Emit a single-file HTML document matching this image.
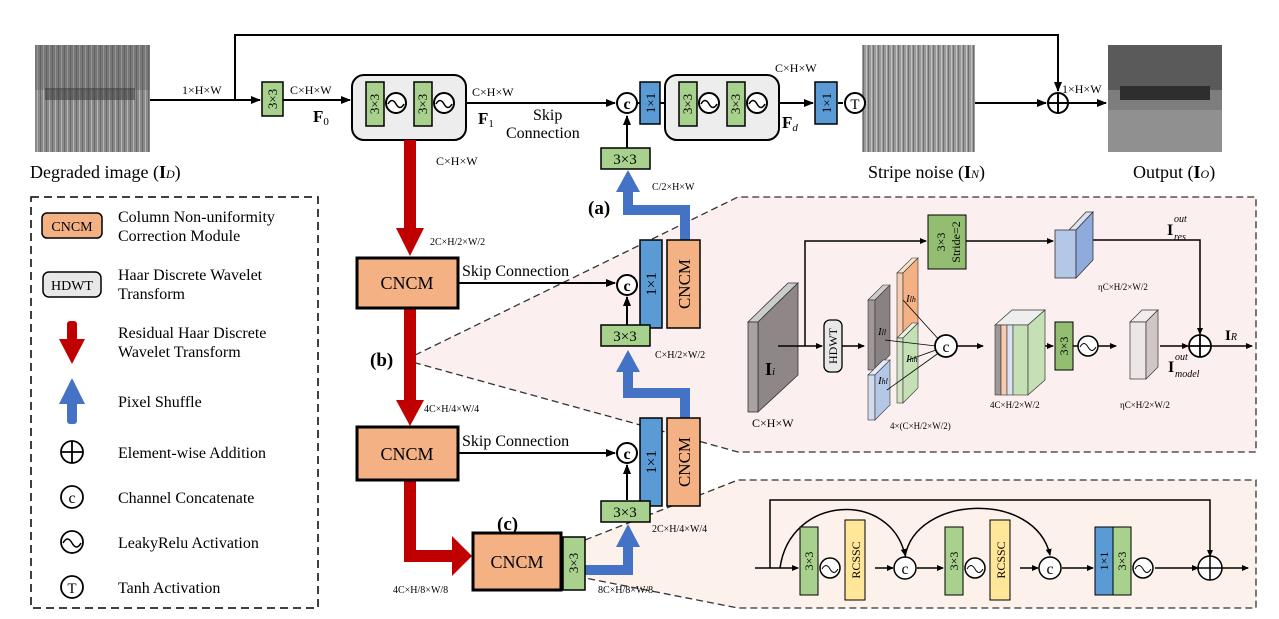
<!DOCTYPE html>
<html><head><meta charset="utf-8"><style>
html,body{margin:0;padding:0;background:#fff}
svg{display:block;font-family:"Liberation Serif",serif}
</style></head><body>
<svg width="1279" height="619" viewBox="0 0 1279 619" xmlns="http://www.w3.org/2000/svg">
<defs>
<marker id="a" markerWidth="10" markerHeight="8" refX="9" refY="4" orient="auto" markerUnits="userSpaceOnUse"><path d="M0,0L10,4L0,8z" fill="#000"/></marker>
<marker id="s" markerWidth="7" markerHeight="6" refX="6" refY="3" orient="auto" markerUnits="userSpaceOnUse"><path d="M0,0L7,3L0,6z" fill="#000"/></marker>
<pattern id="deg" width="6" height="107" patternUnits="userSpaceOnUse"><rect width="6" height="107" fill="#8a8a8a"/><rect x="1" width="1" height="107" fill="#b5b5b5"/><rect x="4" width="1" height="107" fill="#6a6a6a"/></pattern>
<pattern id="str" width="5" height="107" patternUnits="userSpaceOnUse"><rect width="5" height="107" fill="#9a9a9a"/><rect x="1" width="1" height="107" fill="#c2c2c2"/><rect x="3" width="1" height="107" fill="#707070"/></pattern>
</defs>

<!-- images -->
<rect x="35" y="45" width="115" height="107" fill="url(#deg)"/>
<rect x="35" y="45" width="115" height="45" fill="#555" opacity=".35"/>
<rect x="45" y="88" width="90" height="12" fill="#333" opacity=".5"/>
<rect x="862" y="45" width="113" height="107" fill="url(#str)"/>
<rect x="1108" y="45" width="114" height="107" fill="#7d7d7d"/>
<rect x="1108" y="45" width="114" height="45" fill="#5a5a5a"/>
<rect x="1120" y="86" width="90" height="14" fill="#2e2e2e"/>
<rect x="1108" y="110" width="114" height="42" fill="#909090"/>
<text x="30" y="178" font-size="18">Degraded image (<tspan font-weight="bold">I</tspan><tspan font-size="12" font-style="italic">D</tspan>)</text>
<text x="868" y="178" font-size="18">Stripe noise (<tspan font-weight="bold">I</tspan><tspan font-size="12" font-style="italic">N</tspan>)</text>
<text x="1133" y="178" font-size="18">Output (<tspan font-weight="bold">I</tspan><tspan font-size="12" font-style="italic">O</tspan>)</text>

<!-- top path -->
<g stroke="#000" stroke-width="2" fill="none">
<path d="M150,100H260" marker-end="url(#a)"/>
<path d="M235,100V35H1058V91" marker-end="url(#a)"/>
<path d="M283,100H350" marker-end="url(#a)"/>
<path d="M466,103H615" marker-end="url(#a)"/>
<path d="M637,103H640"/>
<path d="M660,103H665"/>
<path d="M780,103H813" marker-end="url(#a)"/>
<path d="M838,103H843"/>
<path d="M975,103H1046" marker-end="url(#a)"/>
<path d="M1068,103H1106" marker-end="url(#a)"/>
<path d="M627,148V116" marker-end="url(#a)"/>
</g>
<text x="182" y="94" font-size="12">1×H×W</text>
<rect x="262" y="82" width="21" height="34" fill="#a9d18e" stroke="#000" stroke-width="1.5"/>
<text transform="translate(277,99) rotate(-90)" text-anchor="middle" font-size="13">3×3</text>
<text x="290" y="94" font-size="12">C×H×W</text>
<text x="313" y="122" font-size="17" font-weight="bold">F<tspan font-size="11" font-weight="normal" dy="3">0</tspan></text>

<g id="rb">
<rect x="352" y="75" width="114" height="65" rx="12" fill="#ededed" stroke="#000" stroke-width="2"/>
<rect x="366" y="82" width="18" height="44" fill="#a9d18e" stroke="#000" stroke-width="1.5"/>
<text transform="translate(379,104) rotate(-90)" text-anchor="middle" font-size="13">3×3</text>
<circle cx="396" cy="103" r="10" fill="#fff" stroke="#000" stroke-width="2"/>
<path d="M388,104q4,-7 8,0t8,0" fill="none" stroke="#000" stroke-width="1.5"/>
<rect x="414" y="82" width="18" height="44" fill="#a9d18e" stroke="#000" stroke-width="1.5"/>
<text transform="translate(427,104) rotate(-90)" text-anchor="middle" font-size="13">3×3</text>
<circle cx="444" cy="103" r="10" fill="#fff" stroke="#000" stroke-width="2"/>
<path d="M436,104q4,-7 8,0t8,0" fill="none" stroke="#000" stroke-width="1.5"/>
</g>
<use href="#rb" x="313"/>
<text x="472" y="96" font-size="12">C×H×W</text>
<text x="478" y="124" font-size="17" font-weight="bold">F<tspan font-size="11" font-weight="normal" dy="3">1</tspan></text>
<text x="533" y="120" font-size="16">Skip</text>
<text x="506" y="138" font-size="16">Connection</text>
<text x="775" y="72" font-size="12">C×H×W</text>
<text x="782" y="128" font-size="17" font-weight="bold">F<tspan font-size="11" font-weight="normal" font-style="italic" dy="3">d</tspan></text>

<g id="cc"><circle cx="627" cy="103" r="10" fill="#fff" stroke="#000" stroke-width="2"/><text x="627" y="109" text-anchor="middle" font-size="16" font-weight="bold">c</text></g>
<rect x="640" y="82" width="20" height="42" fill="#5b9bd5" stroke="#000" stroke-width="1.5"/>
<text transform="translate(655,103) rotate(-90)" text-anchor="middle" font-size="13">1×1</text>
<rect x="815" y="82" width="22" height="42" fill="#5b9bd5" stroke="#000" stroke-width="1.5"/>
<text transform="translate(831,103) rotate(-90)" text-anchor="middle" font-size="13">1×1</text>
<circle cx="855" cy="103" r="10" fill="#fff" stroke="#000" stroke-width="2"/><text x="855" y="109" text-anchor="middle" font-size="15">T</text>
<circle cx="1058" cy="103" r="10" fill="#fff" stroke="#000" stroke-width="2"/><path d="M1048,103H1068M1058,93V113" stroke="#000" stroke-width="2"/>
<text x="1062" y="93" font-size="12">1×H×W</text>

<rect x="601" y="148" width="49" height="21" fill="#a9d18e" stroke="#000" stroke-width="1.5"/>
<text x="625" y="164" text-anchor="middle" font-size="15">3×3</text>
<text x="652" y="190" font-size="10">C/2×H×W</text>

<!-- panels -->
<polygon points="405,360 738,197 1256,197 1256,452 738,452" fill="#fcefef"/>
<path d="M405,360L738,197H1256V452H738L405,360" fill="none" stroke="#333" stroke-width="1.3" stroke-dasharray="7,4"/>
<polygon points="585,540 738,480 1256,480 1256,608 738,608 585,578" fill="#fcf1eb"/>
<path d="M585,540L738,480H1256V608H738L585,578" fill="none" stroke="#333" stroke-width="1.3" stroke-dasharray="7,4"/>

<g fill="#c00000">
<rect x="404" y="140" width="12" height="90"/><polygon points="396,228 424,228 410,256"/>
<rect x="404" y="308" width="12" height="94"/><polygon points="396,400 424,400 410,426"/>
<path d="M404,480h12v70h36v-14l20,20l-20,20v-14h-48z"/>
</g>
<g fill="none" stroke="#4472c4" stroke-width="10">
<path d="M685,240V210H628V190"/>
<path d="M685,418V393H628V370"/>
<path d="M585,570H628V545"/>
</g>
<g fill="#4472c4">
<polygon points="616,192 640,192 628,170"/>
<polygon points="616,372 640,372 628,350"/>
<polygon points="616,547 640,547 628,524"/>
</g>
<text x="436" y="165" font-size="12">C×H×W</text>
<text x="430" y="245" font-size="10">2C×H/2×W/2</text>
<text x="424" y="412" font-size="10">4C×H/4×W/4</text>
<text x="393" y="593" font-size="10">4C×H/8×W/8</text>
<text x="598" y="593" font-size="10">8C×H/8×W/8</text>
<text x="655" y="358" font-size="10">C×H/2×W/2</text>
<text x="652" y="532" font-size="10">2C×H/4×W/4</text>
<text x="588" y="214" font-size="19" font-weight="bold">(a)</text>
<text x="370" y="366" font-size="19" font-weight="bold">(b)</text>
<text x="497" y="530" font-size="19" font-weight="bold">(c)</text>

<rect x="357" y="258" width="101" height="50" fill="#f4b183" stroke="#000" stroke-width="3"/>
<text x="407" y="289" text-anchor="middle" font-size="18">CNCM</text>
<rect x="357" y="427" width="101" height="53" fill="#f4b183" stroke="#000" stroke-width="3"/>
<text x="407" y="460" text-anchor="middle" font-size="18">CNCM</text>
<rect x="473" y="533" width="88" height="57" fill="#f4b183" stroke="#000" stroke-width="3"/>
<text x="517" y="568" text-anchor="middle" font-size="18">CNCM</text>
<rect x="563" y="537" width="22" height="53" fill="#a9d18e" stroke="#000" stroke-width="1.5"/>
<text transform="translate(578,563) rotate(-90)" text-anchor="middle" font-size="13">3×3</text>
<g stroke="#000" stroke-width="2" fill="none">
<path d="M458,283H615" marker-end="url(#a)"/>
<path d="M458,453H615" marker-end="url(#a)"/>
<path d="M627,325V297" marker-end="url(#a)"/>
<path d="M627,500V465" marker-end="url(#a)"/>
</g>
<text x="462" y="276" font-size="16">Skip Connection</text>
<text x="462" y="446" font-size="16">Skip Connection</text>
<use href="#cc" y="182"/>
<use href="#cc" y="350"/>
<g id="pr">
<rect x="640" y="240" width="22" height="88" fill="#5b9bd5" stroke="#000" stroke-width="1.5"/>
<text transform="translate(656,284) rotate(-90)" text-anchor="middle" font-size="15">1×1</text>
<rect x="667" y="240" width="33" height="88" fill="#f4b183" stroke="#000" stroke-width="1.5"/>
<text transform="translate(690,284) rotate(-90)" text-anchor="middle" font-size="17">CNCM</text>
</g>
<use href="#pr" y="178"/>
<rect x="601" y="325" width="49" height="21" fill="#a9d18e" stroke="#000" stroke-width="1.5"/>
<text x="625" y="341" text-anchor="middle" font-size="15">3×3</text>
<rect x="601" y="501" width="49" height="21" fill="#a9d18e" stroke="#000" stroke-width="1.5"/>
<text x="625" y="517" text-anchor="middle" font-size="15">3×3</text>

<!-- panel b content -->
<polygon points="748,322 758,322 798,283 788,283" fill="#ccc" stroke="#333" stroke-width=".8"/>
<polygon points="758,322 798,283 798,375 758,412" fill="#8f8787" stroke="#333" stroke-width=".8"/>
<rect x="748" y="322" width="10" height="90" fill="#aaa2a2" stroke="#333" stroke-width=".8"/>
<text x="765" y="375" font-size="18" font-weight="bold">I<tspan font-size="11" font-style="italic" font-weight="normal">i</tspan></text>
<text x="752" y="427" font-size="12">C×H×W</text>
<rect x="824" y="320" width="18" height="52" rx="6" fill="#e8e8e8" stroke="#000" stroke-width="1.3"/>
<text transform="translate(837,346) rotate(-90)" text-anchor="middle" font-size="12">HDWT</text>
<g stroke="#000" stroke-width="1.5" fill="none">
<path d="M778,346H822" marker-end="url(#s)"/>
<path d="M842,346H864" marker-end="url(#s)"/>
<path d="M805,346V241H926" marker-end="url(#s)"/>
<path d="M966,241H1053" marker-end="url(#s)"/>
<path d="M1085,240H1200V334" marker-end="url(#s)"/>
<path d="M957,346H983" marker-end="url(#s)"/>
<path d="M1030,346H1053" marker-end="url(#s)"/>
<path d="M1073,346H1078"/>
<path d="M1098,346H1116" marker-end="url(#s)"/>
<path d="M1160,346H1188" marker-end="url(#s)"/>
<path d="M1210,346H1252" marker-end="url(#s)"/>
</g>
<rect x="928" y="215" width="38" height="54" fill="#70ad47" fill-opacity=".75" stroke="#000" stroke-width="1"/>
<text transform="translate(945,242) rotate(-90)" text-anchor="middle" font-size="12">3×3</text>
<text transform="translate(960,242) rotate(-90)" text-anchor="middle" font-size="12">Stride=2</text>
<polygon points="1069,230 1086,212 1093,212 1076,230" fill="#dde3ee" stroke="#333" stroke-width=".8"/>
<rect x="1055" y="230" width="21" height="48" fill="#b4c7e7" stroke="#333" stroke-width=".8"/>
<polygon points="1076,230 1093,212 1093,260 1076,278" fill="#8faadc" stroke="#333" stroke-width=".8"/>
<text x="1167" y="235" font-size="16" font-weight="bold">I</text><text x="1174" y="222" font-size="10" font-style="italic">out</text><text x="1174" y="240" font-size="10" font-style="italic">res</text>
<text x="1098" y="290" font-size="9">ηC×H/2×W/2</text>
<polygon points="868,300 875,300 890,285 883,285" fill="#ccc" stroke="#333" stroke-width=".6"/><rect x="868" y="300" width="7" height="70" fill="#a09898" stroke="#333" stroke-width=".6"/><polygon points="875,300 890,285 890,355 875,370" fill="#8a8282" stroke="#333" stroke-width=".6"/>
<polygon points="897,273 903,273 918,258 912,258" fill="#f8e0d0" stroke="#333" stroke-width=".6"/><rect x="897" y="273" width="6" height="68" fill="#f6cdb0" stroke="#333" stroke-width=".6"/><polygon points="903,273 918,258 918,326 903,341" fill="#f4b183" stroke="#333" stroke-width=".6"/>
<polygon points="868,375 875,375 890,360 883,360" fill="#e5ebf5" stroke="#333" stroke-width=".6"/><rect x="868" y="375" width="7" height="45" fill="#d0dcee" stroke="#333" stroke-width=".6"/><polygon points="875,375 890,360 890,405 875,420" fill="#b4c7e7" stroke="#333" stroke-width=".6"/>
<polygon points="897,338 903,338 918,323 912,323" fill="#e8f0df" stroke="#333" stroke-width=".6"/><rect x="897" y="338" width="6" height="65" fill="#d2e4c4" stroke="#333" stroke-width=".6"/><polygon points="903,338 918,323 918,388 903,403" fill="#c5e0b4" stroke="#333" stroke-width=".6"/>
<text x="878" y="335" font-size="11" font-style="italic">I<tspan font-size="8">ll</tspan></text>
<text x="906" y="302" font-size="11" font-style="italic">I<tspan font-size="8">lh</tspan></text>
<text x="906" y="362" font-size="11" font-style="italic">I<tspan font-size="8">hh</tspan></text>
<text x="878" y="384" font-size="11" font-style="italic">I<tspan font-size="8">hl</tspan></text>
<g stroke="#000" stroke-width=".8"><path d="M903,300L941,342M885,340L936,346M908,360L936,350M887,390L940,352"/></g>
<text x="890" y="429" font-size="9">4×(C×H/2×W/2)</text>
<circle cx="946" cy="346" r="11" fill="#fff" stroke="#000" stroke-width="1.8"/><text x="946" y="352" text-anchor="middle" font-size="16">c</text>
<polygon points="995,325 1028,325 1045,310 1012,310" fill="#eee" stroke="#333" stroke-width=".7"/>
<rect x="995" y="325" width="6" height="70" fill="#a09898" stroke="#333" stroke-width=".6"/>
<rect x="1001" y="325" width="6" height="70" fill="#f8cbad" stroke="#333" stroke-width=".6"/>
<rect x="1007" y="325" width="6" height="70" fill="#dae3f3" stroke="#333" stroke-width=".6"/>
<rect x="1013" y="325" width="15" height="70" fill="#c5e0b4" stroke="#333" stroke-width=".6"/>
<polygon points="1028,325 1045,310 1045,380 1028,395" fill="#c5e0b4" stroke="#333" stroke-width=".7"/>
<text x="990" y="408" font-size="9">4C×H/2×W/2</text>
<rect x="1055" y="322" width="18" height="48" fill="#70ad47" fill-opacity=".75" stroke="#000"/>
<text transform="translate(1068,346) rotate(-90)" text-anchor="middle" font-size="12">3×3</text>
<circle cx="1088" cy="346" r="10" fill="#fff" stroke="#000" stroke-width="1.5"/><path d="M1080,347q4,-7 8,0t8,0" fill="none" stroke="#000"/>
<polygon points="1130,322 1142,310 1158,310 1146,322" fill="#f2eded" stroke="#333" stroke-width=".7"/>
<rect x="1130" y="322" width="16" height="57" fill="#ede6e6" stroke="#333" stroke-width=".7"/>
<polygon points="1146,322 1158,310 1158,367 1146,379" fill="#d0c6c6" stroke="#333" stroke-width=".7"/>
<text x="1168" y="372" font-size="16" font-weight="bold">I</text><text x="1175" y="360" font-size="10" font-style="italic">out</text><text x="1175" y="377" font-size="10" font-style="italic">model</text>
<text x="1120" y="408" font-size="9">ηC×H/2×W/2</text>
<circle cx="1200" cy="346" r="11" fill="#fff" stroke="#000" stroke-width="1.8"/><path d="M1189,346H1211M1200,335V357" stroke="#000" stroke-width="1.8"/>
<text x="1225" y="340" font-size="15" font-weight="bold">I<tspan font-size="10" font-style="italic" font-weight="normal">R</tspan></text>

<!-- panel c content -->
<g stroke="#000" stroke-width="1.5" fill="none">
<path d="M755,568H798" marker-end="url(#s)"/>
<path d="M770,568V500H1210V556" marker-end="url(#s)"/>
<path d="M780,568C790,495 890,490 905,555" marker-end="url(#s)"/>
<path d="M905,557C915,495 1035,490 1050,555" marker-end="url(#s)"/>
<path d="M875,568H893" marker-end="url(#s)"/>
<path d="M917,568H943" marker-end="url(#s)"/>
<path d="M1020,568H1038" marker-end="url(#s)"/>
<path d="M1062,568H1093" marker-end="url(#s)"/>
<path d="M1155,568H1198" marker-end="url(#s)"/>
<path d="M1222,568H1248" marker-end="url(#s)"/>
</g>
<g id="blk">
<rect x="800" y="527" width="18" height="68" fill="#a9d18e" stroke="#000"/>
<text transform="translate(813,561) rotate(-90)" text-anchor="middle" font-size="12">3×3</text>
<circle cx="830" cy="568" r="10" fill="#fff" stroke="#000" stroke-width="1.5"/><path d="M822,569q4,-7 8,0t8,0" fill="none" stroke="#000"/>
<rect x="845" y="520" width="20" height="80" fill="#ffe699" stroke="#000"/>
<text transform="translate(860,560) rotate(-90)" text-anchor="middle" font-size="12">RCSSC</text>
<circle cx="905" cy="568" r="11" fill="#fff" stroke="#000" stroke-width="1.5"/><text x="905" y="574" text-anchor="middle" font-size="16">c</text>
</g>
<use href="#blk" x="145"/>
<rect x="1095" y="527" width="18" height="68" fill="#5b9bd5" stroke="#000"/>
<text transform="translate(1108,561) rotate(-90)" text-anchor="middle" font-size="12">1×1</text>
<rect x="1113" y="527" width="18" height="68" fill="#a9d18e" stroke="#000"/>
<text transform="translate(1126,561) rotate(-90)" text-anchor="middle" font-size="12">3×3</text>
<circle cx="1143" cy="568" r="10" fill="#fff" stroke="#000" stroke-width="1.5"/><path d="M1135,569q4,-7 8,0t8,0" fill="none" stroke="#000"/>
<circle cx="1210" cy="568" r="12" fill="#fff" stroke="#000" stroke-width="1.5"/><path d="M1198,568H1222M1210,556V580" stroke="#000" stroke-width="1.5"/>

<!-- legend -->
<rect x="31" y="197" width="287" height="411" fill="none" stroke="#000" stroke-width="1.5" stroke-dasharray="8,5"/>
<rect x="42" y="213" width="60" height="25" rx="5" fill="#f4b183" stroke="#000" stroke-width="1.5"/>
<text x="72" y="231" text-anchor="middle" font-size="14">CNCM</text>
<rect x="43" y="272" width="58" height="25" rx="6" fill="#e8e8e8" stroke="#000" stroke-width="1.5"/>
<text x="72" y="290" text-anchor="middle" font-size="14">HDWT</text>
<rect x="67" y="321" width="10" height="20" rx="3" fill="#c00000"/><polygon points="59,339 85,339 72,364" fill="#c00000"/>
<polygon points="59,404 85,404 72,378" fill="#4472c4"/><rect x="67" y="402" width="10" height="22" rx="3" fill="#4472c4"/>
<circle cx="72" cy="452" r="11" fill="#fff" stroke="#000" stroke-width="1.8"/><path d="M61,452H83M72,441V463" stroke="#000" stroke-width="1.8"/>
<circle cx="72" cy="497" r="11" fill="#fff" stroke="#000" stroke-width="1.8"/><text x="72" y="503" text-anchor="middle" font-size="16">c</text>
<circle cx="72" cy="542" r="11" fill="#fff" stroke="#000" stroke-width="1.8"/><path d="M63,543q4.5,-8 9,0t9,0" fill="none" stroke="#000" stroke-width="1.5"/>
<circle cx="72" cy="587" r="11" fill="#fff" stroke="#000" stroke-width="1.8"/><text x="72" y="593" text-anchor="middle" font-size="15">T</text>
<g font-size="16">
<text x="118" y="222">Column Non-uniformity</text>
<text x="118" y="241">Correction Module</text>
<text x="118" y="280">Haar Discrete Wavelet</text>
<text x="118" y="299">Transform</text>
<text x="118" y="338">Residual Haar Discrete</text>
<text x="118" y="357">Wavelet Transform</text>
<text x="118" y="407">Pixel Shuffle</text>
<text x="118" y="458">Element-wise Addition</text>
<text x="118" y="503">Channel Concatenate</text>
<text x="118" y="548">LeakyRelu Activation</text>
<text x="118" y="593">Tanh Activation</text>
</g>
</svg>
</body></html>
